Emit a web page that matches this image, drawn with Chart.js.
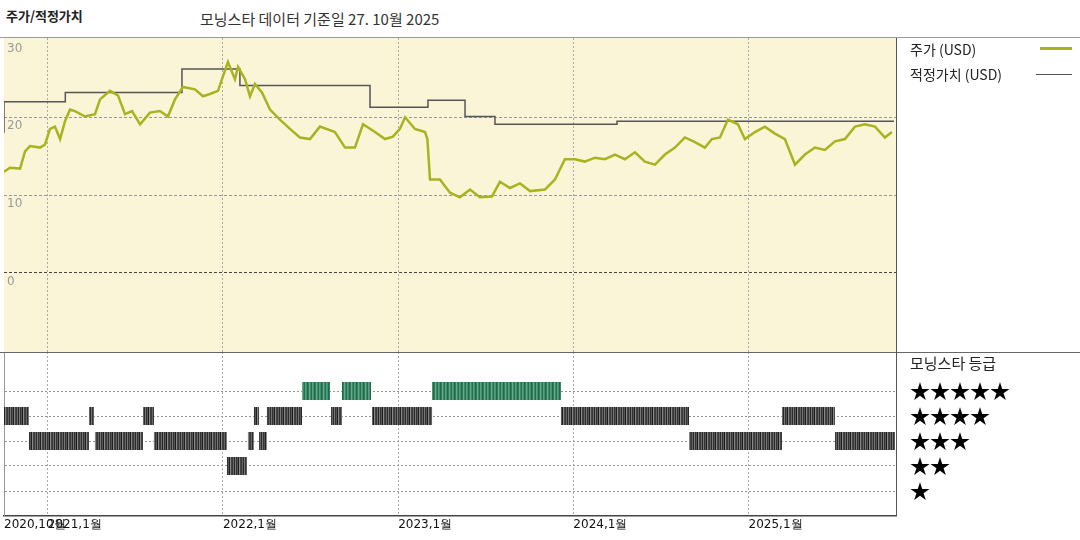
<!DOCTYPE html>
<html>
<head>
<meta charset="utf-8">
<script src="https://cdn.jsdelivr.net/npm/chart.js@4"></script>
<style>
  body { margin: 0; width: 1080px; height: 540px; background: #fff; position: relative; overflow: hidden;
         font-family: "Noto Sans CJK KR", "Noto Sans", sans-serif; }
  .abs { position: absolute; }
  #bgTop { left: 4px; top: 38px; width: 892px; height: 314px; background: #faf5d7; }
  #wrapTop { left: 0; top: 38px; width: 1080px; height: 314px; }
  #wrapBot { left: 0; top: 352px; width: 1080px; height: 188px; }
  .hline { height: 0; border-top: 1px solid #777; }
  .vline { width: 0; border-left: 1px solid #555; }
  .txt { white-space: nowrap; color: #222; }
  .estrella { position: absolute; left: 910px; font-size: 20px; line-height: 22px; height: 22px; color: #000; white-space: nowrap; }
</style>
</head>
<body>
<div class="abs" id="bgTop"></div>
<div class="abs" id="wrapTop"><canvas id="graficoPrecio"></canvas></div>
<div class="abs" id="wrapBot"><canvas id="graficoRating"></canvas></div>

<div class="abs hline" style="left:0;top:37px;width:1080px;border-color:#999"></div>
<div class="abs hline" style="left:0;top:352px;width:1080px;border-color:#666"></div>
<div class="abs vline" style="left:896px;top:38px;height:478px"></div>

<div class="abs txt" style="left:6px;top:6px;font-size:13px;font-weight:bold">주가/적정가치</div>
<div class="abs txt" style="left:200px;top:8px;font-size:15px;color:#333">모닝스타 데이터 기준일 27. 10월 2025</div>

<div class="abs txt" style="left:910px;top:39px;font-size:14px">주가 (USD)</div>
<div class="abs" style="left:1040px;top:47px;width:32px;height:3px;background:#a9b21f"></div>
<div class="abs txt" style="left:910px;top:64px;font-size:14px">적정가치 (USD)</div>
<div class="abs" style="left:1036px;top:74px;width:36px;height:1px;background:#555"></div>

<div class="abs txt" style="left:910px;top:352px;font-size:15px">모닝스타 등급</div>
<div class="estrella" style="top:380px">★★★★★</div>
<div class="estrella" style="top:405px">★★★★</div>
<div class="estrella" style="top:430px">★★★</div>
<div class="estrella" style="top:455px">★★</div>
<div class="estrella" style="top:480px">★</div>

<script>
// x = meses desde 2020-10-01
const precioMes = [0, 0.41, 1.10, 1.44, 1.78, 2.47, 2.81, 3.15, 3.49, 3.84, 4.18, 4.52, 4.86, 5.55, 6.23, 6.58,
  7.26, 7.81, 8.29, 8.77, 9.32, 10.0, 10.68, 11.23, 11.71, 12.26, 13.08, 13.63, 14.11, 14.66, 14.93, 15.34,
  15.82, 16.03, 16.51, 16.85, 17.19, 17.67, 18.22, 18.9, 19.59, 20.27, 20.96, 21.64, 22.67, 23.36, 24.04,
  24.59, 25.41, 26.1, 26.64, 27.12, 27.47, 28.15, 28.84, 29.0, 29.18, 29.86, 30.55, 31.23, 31.92, 32.6, 33.42,
  33.97, 34.66, 35.34, 36.03, 37.05, 37.74, 38.42, 39.11, 39.79, 40.48, 41.16, 41.85, 42.53, 43.22, 43.9,
  44.59, 45.27, 45.96, 46.64, 47.33, 48.01, 48.49, 49.04, 49.59, 50.27, 50.75, 51.44, 52.12, 52.81, 53.49,
  54.18, 54.86, 55.55, 56.23, 56.92, 57.6, 58.29, 58.97, 59.66, 60.34, 60.82];
const precioUSD = [13.0, 13.5, 13.4, 15.6, 16.3, 16.1, 16.5, 18.5, 18.8, 17.2, 19.5, 21.0, 20.8, 20.1, 20.4, 22.3,
  23.4, 22.8, 20.4, 20.8, 19.1, 20.6, 20.8, 20.1, 22.3, 23.9, 23.6, 22.7, 23.0, 23.4, 24.9, 27.1,
  24.9, 26.5, 24.9, 22.7, 24.3, 23.2, 21.0, 19.7, 18.5, 17.4, 17.2, 18.8, 18.1, 16.1, 16.1,
  19.1, 18.1, 17.2, 17.5, 18.5, 20.0, 18.5, 18.1, 17.2, 12.0, 12.0, 10.3, 9.7, 10.7, 9.7, 9.8,
  11.7, 10.9, 11.5, 10.5, 10.7, 12.0, 14.6, 14.6, 14.3, 14.8, 14.6, 15.2, 14.6, 15.5, 14.3,
  13.9, 15.2, 16.1, 17.4, 16.8, 16.1, 17.2, 17.4, 19.7, 19.1, 17.2, 18.1, 18.8, 17.9, 17.2,
  13.9, 15.2, 16.1, 15.8, 16.9, 17.2, 18.8, 19.1, 18.8, 17.4, 18.1];

const justoMes = [0, 4.2, 12.19, 16.16, 25.07, 29.04, 31.58, 33.63, 41.99, 49.04, 60.96];
const justoUSD = [18.0, 22.0, 23.2, 26.2, 24.1, 21.3, 22.2, 20.1, 19.1, 19.5, 19.5];

// tramos de calificación (estrellas)
const ratingInicio = [0, 5.82, 9.52, 17.12, 18.01, 22.40, 25.21, 38.15, 53.29,
  1.71, 6.23, 10.27, 16.71, 17.47, 46.92, 56.92,
  15.27,
  20.41, 23.15, 29.32];
const ratingFin = [1.71, 6.16, 10.27, 17.47, 20.41, 23.15, 29.32, 46.92, 56.92,
  5.82, 9.52, 15.27, 17.12, 18.01, 53.29, 61.03,
  16.64,
  22.33, 25.14, 38.15];
const ratingEstrellas = [4, 4, 4, 4, 4, 4, 4, 4, 4,
  3, 3, 3, 3, 3, 3, 3,
  2,
  5, 5, 5];

const ticksAnio = [3, 15, 27, 39, 51];
const etiquetasX = { 0: "2020,10월", 3: "2021,1월", 15: "2022,1월", 27: "2023,1월", 39: "2024,1월", 51: "2025,1월" };
const ticksPrecio = [0, 10, 20, 30];
const X_MAX = 61.1;

function crearPatron(colores) {
  const c = document.createElement("canvas");
  c.width = colores.length; c.height = 1;
  const ctx = c.getContext("2d");
  colores.forEach((col, i) => { ctx.fillStyle = col; ctx.fillRect(i, 0, 1, 1); });
  return ctx.createPattern(c, "repeat");
}
const patronGris  = crearPatron(["#2a2a2a", "#777", "#333", "#555", "#1e1e1e", "#888", "#444", "#3a3a3a", "#666"]);
const patronVerde = crearPatron(["#2f7d5c", "#6aaa8c", "#3b8a68", "#256f4f", "#5c9f80", "#44906f", "#1f6a4a"]);

const etiquetasY = {
  id: "etiquetasY",
  afterDraw(chart) {
    const { ctx, scales } = chart;
    ctx.save();
    ctx.fillStyle = "#999";
    ctx.font = "12px 'DejaVu Sans', sans-serif";
    ctx.textBaseline = "top";
    ticksPrecio.forEach(v => {
      const y = scales.y.getPixelForValue(v);
      ctx.fillText(String(v), scales.x.left + 3, Math.max(y + 3, chart.chartArea.top + 3));
    });
    ctx.restore();
  }
};

window.onload = function () {
  // 1. Precio y valor justo
  new Chart(document.getElementById("graficoPrecio").getContext("2d"), {
    type: "line",
    data: {
      datasets: [
        {
          label: "주가 (USD)",
          data: precioMes.map((m, i) => ({ x: m, y: precioUSD[i] })),
          borderColor: "#a9b21f", borderWidth: 2.5, pointRadius: 0, tension: 0
        },
        {
          label: "적정가치 (USD)",
          data: justoMes.map((m, i) => ({ x: m, y: justoUSD[i] })),
          borderColor: "#555", borderWidth: 1.5, pointRadius: 0, stepped: "after"
        }
      ]
    },
    options: {
      responsive: true, maintainAspectRatio: false, animation: false,
      layout: { padding: { left: 4, right: 184, top: 0, bottom: 0 } },
      plugins: { legend: { display: false }, tooltip: { enabled: false } },
      scales: {
        x: {
          type: "linear", min: 0, max: X_MAX,
          afterBuildTicks: s => { s.ticks = ticksAnio.map(v => ({ value: v })); },
          afterFit: s => { s.height = 0; },
          ticks: { display: false },
          grid: { color: "#aaa", lineWidth: 1, drawTicks: false },
          border: { display: false, dash: [2, 2] }
        },
        y: {
          min: -10.2, max: 30.2,
          afterBuildTicks: s => { s.ticks = [0, 10, 20].map(v => ({ value: v })); },
          afterFit: s => { s.width = 0; },
          ticks: { display: false },
          grid: { color: c => c.tick && c.tick.value === 0 ? "#444" : "#999", drawTicks: false },
          border: { display: false, dash: [3, 2] }
        }
      }
    },
    plugins: [etiquetasY]
  });

  // 2. Calificación Morningstar
  new Chart(document.getElementById("graficoRating").getContext("2d"), {
    type: "line",
    data: {
      datasets: ratingInicio.map((ini, i) => ({
        data: [{ x: ini, y: ratingEstrellas[i] }, { x: ratingFin[i], y: ratingEstrellas[i] }],
        borderColor: ratingEstrellas[i] === 5 ? patronVerde : patronGris,
        borderWidth: 18, borderCapStyle: "butt", pointRadius: 0
      }))
    },
    options: {
      responsive: true, maintainAspectRatio: false, animation: false,
      layout: { padding: { left: 4, right: 184, top: 0, bottom: 0 } },
      plugins: { legend: { display: false }, tooltip: { enabled: false } },
      scales: {
        x: {
          type: "linear", min: 0, max: X_MAX,
          afterBuildTicks: s => { s.ticks = [0].concat(ticksAnio).map(v => ({ value: v })); },
          afterFit: s => { s.height = 24; },
          ticks: {
            align: "start", padding: 2, maxRotation: 0, autoSkip: false, color: "#111",
            font: { size: 12, family: "'DejaVu Sans', sans-serif" },
            callback: v => etiquetasX[v] || ""
          },
          grid: { color: c => c.tick && c.tick.value === 0 ? "rgba(0,0,0,0)" : "#aaa", drawTicks: false },
          border: { display: true, color: "#444", width: 1.5, dash: [2, 2] }
        },
        y: {
          min: 0, max: 6.56,
          afterBuildTicks: s => { s.ticks = [1, 2, 3, 4, 5].map(v => ({ value: v })); },
          afterFit: s => { s.width = 0; },
          ticks: { display: false },
          grid: { color: "#999", drawTicks: false },
          border: { display: true, color: "#999", dash: [2, 2] }
        }
      }
    }
  });
};
</script>
</body>
</html>
